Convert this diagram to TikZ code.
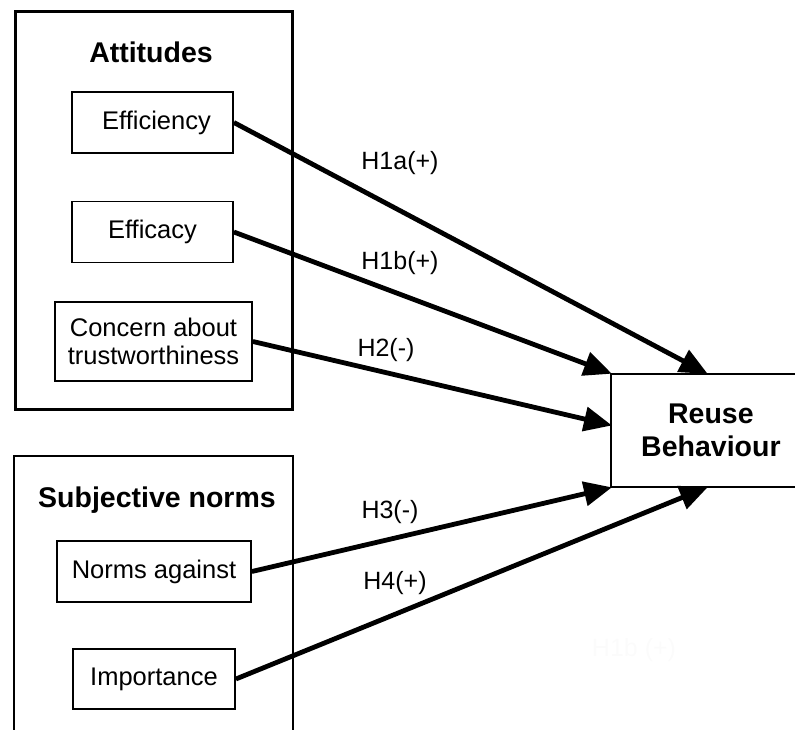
\documentclass[tikz,border=0pt]{standalone}
\usepackage{fontspec}
\setmainfont{Liberation Sans}
\usetikzlibrary{arrows.meta,calc}
\begin{document}
\begin{tikzpicture}[x=1pt,y=-1pt,
  group/.style={draw,line width=2.8pt},
  item/.style={draw,line width=1.8pt,inner sep=0pt,font=\fontsize{25.5}{28}\selectfont,align=center},
  title/.style={font=\fontsize{28.5}{32}\selectfont\bfseries},
  link/.style={line width=4.8pt,-{Triangle[length=28pt,width=24pt]},shorten >=-2pt},
  lab/.style={font=\fontsize{25}{28}\selectfont}]
\useasboundingbox (0,0) rectangle (795,730);
% groups
\node[group,minimum width=277,minimum height=398,anchor=north west] (att) at (14,10) {};
\draw[line width=2.8pt] (14,735) -- (14,456) -- (293,456) -- (293,735);
\coordinate (sn) at (14,456);
\node[title] (atttitle) at (151,52) {Attitudes};
\node[title] (sntitle) at (157,500) {Subjective norms};
% items
\node[item,minimum width=161,minimum height=61] (effi) at (152.5,122.5) {\hspace*{8pt}Efficiency};
\node[item,minimum width=161,minimum height=61] (effc) at (152.5,232) {Efficacy};
\node[item,minimum width=197,minimum height=79] (conc) at (153.5,341.5) {Concern about\\trustworthiness};
\node[item,minimum width=194,minimum height=61] (norm) at (154,571.5) {Norms against};
\node[item,minimum width=162,minimum height=60] (impo) at (154,679) {Importance};
% target
\node[draw,line width=1.8pt,minimum width=200,minimum height=113,anchor=north west,
  font=\fontsize{28.5}{33}\selectfont\bfseries,align=center] (reuse) at (610,373) {Reuse\\Behaviour};
\coordinate (t1) at ($(reuse.north west)+(96,0)$);
\coordinate (t3) at ($(reuse.north west)+(0,52)$);
\coordinate (t5) at ($(reuse.south west)+(96,0)$);
% connectors
\draw[link] (effi.east) -- (t1);
\draw[link] (effc.east) -- (reuse.north west);
\draw[link] (conc.east) -- (t3);
\draw[link] (norm.east) -- (reuse.south west);
\draw[link] (impo.east) -- (t5);
% labels
\node[lab] (l1) at (400,163) {H1a(+)};
\node[lab] (l2) at (400,263) {H1b(+)};
\node[lab] (l3) at (386,350) {H2(-)};
\node[lab] (l4) at (390,512) {H3(-)};
\node[lab] (l5) at (395,583) {H4(+)};
\node[lab,text=black!1.5] (l6) at (634,650) {H1b (+)};
\end{tikzpicture}
\end{document}
